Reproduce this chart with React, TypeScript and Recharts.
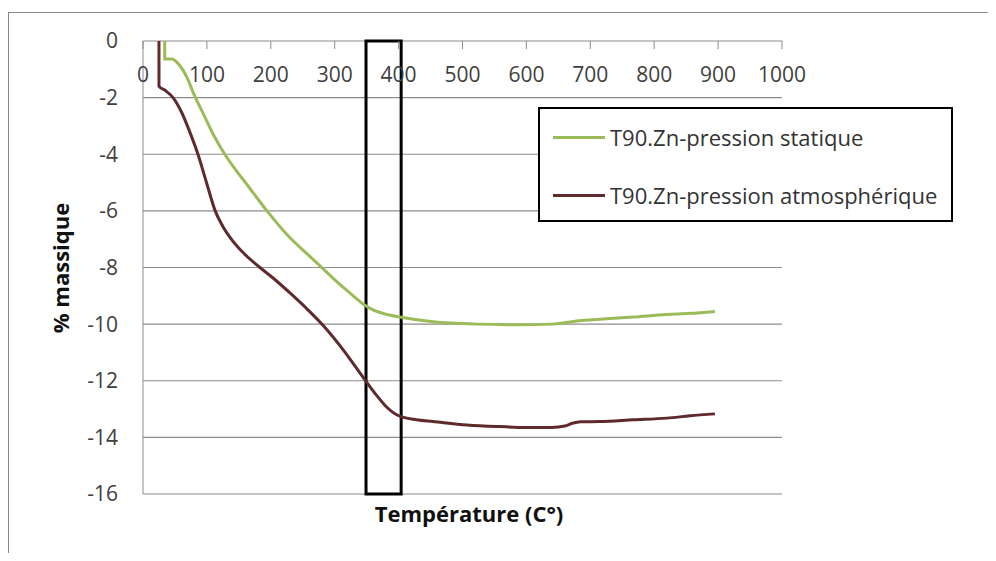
import React from 'react';
import { LineChart, Line, XAxis, YAxis, CartesianGrid, Legend, ReferenceArea } from 'recharts';

// T90.Zn - pression statique
const tempStatique = [34, 34, 45, 55, 68, 81, 95, 110, 128, 145, 162, 194, 230, 256, 282, 308, 329, 345, 360, 380, 402, 454, 522, 585, 640, 665, 690, 720, 767, 820, 856, 895];
const massStatique = [0, -0.64, -0.64, -0.8, -1.25, -1.95, -2.6, -3.3, -4.0, -4.55, -5.05, -6.0, -6.95, -7.5, -8.05, -8.6, -9.0, -9.3, -9.5, -9.65, -9.75, -9.92, -10.0, -10.02, -10.0, -9.93, -9.86, -9.82, -9.75, -9.66, -9.62, -9.55];

// T90.Zn - pression atmosphérique
const tempAtmos = [25, 25, 35, 47, 60, 73, 86, 100, 113, 125, 140, 160, 183, 204, 230, 256, 282, 313, 347, 365, 380, 397, 428, 454, 507, 559, 600, 640, 660, 672, 685, 715, 767, 820, 856, 895];
const massAtmos = [0, -1.6, -1.75, -2.0, -2.5, -3.2, -4.0, -5.05, -6.0, -6.55, -7.05, -7.55, -8.0, -8.38, -8.9, -9.45, -10.05, -10.9, -11.96, -12.5, -12.9, -13.2, -13.38, -13.44, -13.56, -13.62, -13.65, -13.65, -13.6, -13.5, -13.45, -13.44, -13.38, -13.32, -13.24, -13.17];

const xTicks = [0, 100, 200, 300, 400, 500, 600, 700, 800, 900, 1000];
const yTicks = [0, -2, -4, -6, -8, -10, -12, -14, -16];
const boxRange = [349, 404];

const SERIES = [
  { name: 'T90.Zn-pression statique', color: '#9BBB59' },
  { name: 'T90.Zn-pression atmosphérique', color: '#5E2A2C' },
];

const statiqueData = tempStatique.map((t, i) => ({ t, m: massStatique[i] }));
const atmosData = tempAtmos.map((t, i) => ({ t, m: massAtmos[i] }));

const FONT = '"Open Sans", sans-serif';

function LegendBox() {
  return (
    <div
      style={{
        width: 415,
        height: 115,
        boxSizing: 'border-box',
        border: '2px solid #000',
        background: '#fff',
        fontFamily: FONT,
        fontSize: 22,
        color: '#333',
        position: 'relative',
      }}
    >
      {SERIES.map((s, i) => (
        <div
          key={s.name}
          style={{ position: 'absolute', left: 13, top: 28 + i * 58 - 16, height: 32, display: 'flex', alignItems: 'center' }}
        >
          <div style={{ width: 52, height: 3, background: s.color }} />
          <span style={{ marginLeft: 5, whiteSpace: 'nowrap' }}>{s.name}</span>
        </div>
      ))}
    </div>
  );
}

export default function App() {
  return (
    <div style={{ margin: -8, width: 996, height: 561, position: 'relative', overflow: 'hidden', background: '#fff' }}>
      <div
        style={{
          position: 'absolute',
          left: 8,
          top: 12,
          width: 1100,
          height: 700,
          borderTop: '1px solid #8a8a8a',
          borderLeft: '1px solid #8a8a8a',
        }}
      />
      <LineChart width={996} height={561} margin={{ top: 41, right: 214, bottom: 67, left: 0 }}>
        <CartesianGrid vertical={false} stroke="#8c8c8c" strokeWidth={1.2} />
        <XAxis
          type="number"
          dataKey="t"
          domain={[0, 1000]}
          ticks={xTicks}
          orientation="top"
          mirror
          height={1}
          axisLine={false}
          tickSize={8}
          tickMargin={18}
          stroke="#8c8c8c"
          tick={{ fill: '#404040', fontSize: 21, fontFamily: FONT }}
          allowDataOverflow
          label={{
            content: () => (
              <text x={469} y={522} textAnchor="middle" fontFamily={FONT} fontSize={22} fontWeight="bold" fill="#111">
                Température (C°)
              </text>
            ),
          }}
        />
        <YAxis
          type="number"
          domain={[-16, 0]}
          ticks={yTicks}
          width={143}
          tickLine={false}
          tickSize={0}
          tickMargin={25}
          stroke="#8c8c8c"
          tick={{ fill: '#404040', fontSize: 21, fontFamily: FONT }}
          allowDataOverflow
          label={{
            content: () => (
              <text
                x={60}
                y={268}
                textAnchor="middle"
                dominantBaseline="central"
                transform="rotate(-90 60 268)"
                fontFamily={FONT}
                fontSize={22}
                fontWeight="bold"
                fill="#111"
              >
                % massique
              </text>
            ),
          }}
        />
        <Line
          data={statiqueData}
          dataKey="m"
          name={SERIES[0].name}
          type="monotone"
          stroke={SERIES[0].color}
          strokeWidth={3}
          dot={false}
          isAnimationActive={false}
        />
        <Line
          data={atmosData}
          dataKey="m"
          name={SERIES[1].name}
          type="monotone"
          stroke={SERIES[1].color}
          strokeWidth={3}
          dot={false}
          isAnimationActive={false}
        />
        <ReferenceArea
          x1={boxRange[0]}
          x2={boxRange[1]}
          y1={0}
          y2={-16}
          fill="none"
          fillOpacity={0}
          stroke="#000"
          strokeWidth={3}
        />
        <Legend
          layout="vertical"
          align="center"
          verticalAlign="middle"
          wrapperStyle={{ left: 538, top: 107, width: 415 }}
          content={() => <LegendBox />}
        />
      </LineChart>
    </div>
  );
}
